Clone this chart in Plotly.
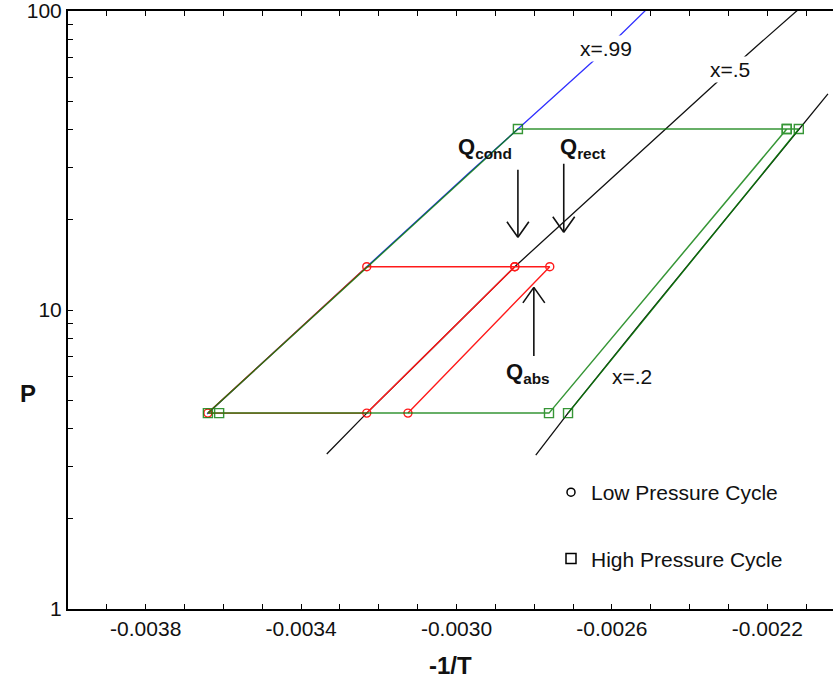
import math
import plotly.graph_objects as go

# ---- data ----
# constant-quality (x) lines: -1/T and pressure
q99_x = [-0.003642, -0.003506, -0.003377, -0.003231, -0.003094, -0.002966, -0.002842, -0.002734, -0.002631, -0.002507]
q99_p = [4.49, 6.55, 9.33, 13.96, 20.3, 28.9, 40.3, 54.0, 71.3, 102.4]

q50_x = [-0.003334, -0.003231, -0.003043, -0.002850, -0.002631, -0.002425, -0.002317, -0.002253, -0.002116]
q50_p = [3.30, 4.52, 7.88, 13.96, 25.4, 44.6, 59.7, 71.3, 102.3]

q20_x = [-0.002796, -0.002713, -0.002528, -0.002322, -0.002119, -0.002044]
q20_p = [3.27, 4.52, 8.98, 19.1, 40.3, 52.8]

# low pressure cycle (circles)
lp_x = [-0.003125, -0.002760, -0.002850, -0.003231, -0.003640, -0.003231, -0.002850]
lp_p = [4.52, 13.96, 13.96, 13.96, 4.52, 4.52, 13.96]

# high pressure cycle (squares)
hp_x = [-0.002713, -0.002119, -0.002150, -0.002842, -0.003640, -0.003611, -0.002762, -0.002150]
hp_p = [4.52, 40.3, 40.3, 40.3, 4.52, 4.52, 4.52, 40.3]

x_tick_labels = ["-0.0038", "-0.0034", "-0.0030", "-0.0026", "-0.0022"]
y_tick_labels = ["1", "10", "100"]
legend_names = ["Low Pressure Cycle", "High Pressure Cycle"]

FONT = "Liberation Sans, Arial, sans-serif"
INK = "#111111"

fig = go.Figure()

# quality lines
fig.add_trace(go.Scatter(x=q99_x, y=q99_p, mode="lines", line=dict(color="#3030ff", width=1.3), showlegend=False, hoverinfo="skip"))
fig.add_trace(go.Scatter(x=q50_x, y=q50_p, mode="lines", line=dict(color=INK, width=1.3), showlegend=False, hoverinfo="skip"))
fig.add_trace(go.Scatter(x=q20_x, y=q20_p, mode="lines", line=dict(color=INK, width=1.3), showlegend=False, hoverinfo="skip"))

# cycles
fig.add_trace(go.Scatter(x=lp_x, y=lp_p, mode="lines+markers",
                         line=dict(color="#ff1a1a", width=1.4),
                         marker=dict(symbol="circle-open", size=8, color="#ff1a1a", line=dict(width=1.4)),
                         showlegend=False, hoverinfo="skip"))
fig.add_trace(go.Scatter(x=hp_x, y=hp_p, mode="lines+markers",
                         line=dict(color="#0a7f0a", width=1.5), opacity=0.82,
                         marker=dict(symbol="square-open", size=9, color="#0a7f0a", line=dict(width=1.4)),
                         showlegend=False, hoverinfo="skip"))

# legend entries (black open symbols)
fig.add_trace(go.Scatter(x=[None], y=[None], mode="markers", name=legend_names[0], legendgroup="a",
                         marker=dict(symbol="circle-open", size=8, color="black", line=dict(width=1.5))))
fig.add_trace(go.Scatter(x=[None], y=[None], mode="markers", name=legend_names[1], legendgroup="b",
                         marker=dict(symbol="square-open", size=10, color="black", line=dict(width=1.5))))

# ticks
x_tickvals = [round(-0.0040 + i * 0.0001, 4) for i in range(20)]
x_ticktext = [(f"{v:.4f}" if f"{v:.4f}" in x_tick_labels else "") for v in x_tickvals]
y_tickvals = [m * 10 ** d for d in range(0, 2) for m in range(1, 10)] + [100]
y_ticktext = [(str(int(v)) if str(int(v)) in y_tick_labels else "") for v in y_tickvals]

fig.update_xaxes(range=[-0.0040, -0.002031], tickmode="array", tickvals=x_tickvals, ticktext=x_ticktext,
                 ticks="inside", ticklen=5, tickwidth=1, tickcolor="black",
                 showline=True, linewidth=2, linecolor="black", mirror="ticks",
                 showgrid=False, zeroline=False, ticklabeloverflow="allow",
                 tickfont=dict(family=FONT, size=21, color=INK))
fig.update_yaxes(type="log", range=[0, 2], tickmode="array", tickvals=y_tickvals, ticktext=y_ticktext,
                 ticks="inside", ticklen=5, tickwidth=1, tickcolor="black",
                 showline=True, linewidth=2, linecolor="black", mirror=False,
                 showgrid=False, zeroline=False, ticklabeloverflow="allow",
                 tickfont=dict(family=FONT, size=21, color=INK))

ann = []
# curve labels (white background hides the line)
ann.append(dict(x=-0.002616, y=1.873, text="x=.99", showarrow=False, bgcolor="white",
                font=dict(family=FONT, size=21, color=INK)))
ann.append(dict(x=-0.002296, y=1.803, text="x=.5", showarrow=False, bgcolor="white",
                font=dict(family=FONT, size=21, color=INK)))
ann.append(dict(x=-0.002549, y=0.776, text="x=.2", showarrow=False,
                font=dict(family=FONT, size=21, color=INK)))
# heat labels
ann.append(dict(x=-0.002927, y=1.542, text="<b>Q<sub>cond</sub></b>", showarrow=False,
                font=dict(family=FONT, size=22, color=INK)))
ann.append(dict(x=-0.002675, y=1.542, text="<b>Q<sub>rect</sub></b>", showarrow=False,
                font=dict(family=FONT, size=22, color=INK)))
ann.append(dict(x=-0.002816, y=0.789, text="<b>Q<sub>abs</sub></b>", showarrow=False,
                font=dict(family=FONT, size=22, color=INK)))

# arrows: shaft plus two open-V arms, each drawn from the arrow tip
def add_arrow(x, p_tip, length, up=False):
    s = 1 if up else -1  # pixel offset sign of the tail relative to the tip
    seg = dict(x=x, y=math.log10(p_tip), text="", showarrow=True, arrowhead=0,
               arrowwidth=1.6, arrowcolor=INK)
    ann.append(dict(seg, ax=0, ay=s * length))
    ann.append(dict(seg, ax=-12, ay=s * 17))
    ann.append(dict(seg, ax=12, ay=s * 17))

add_arrow(-0.002842, 17.5, 69)
add_arrow(-0.002724, 18.2, 70)
add_arrow(-0.002801, 11.9, 70, up=True)

# axis titles
ann.append(dict(xref="paper", yref="paper", x=(18 - 68) / 765, y=(609 - 393) / 598, text="<b>P</b>",
                showarrow=False, font=dict(family=FONT, size=24, color=INK)))
ann.append(dict(xref="paper", yref="paper", x=(450 - 68) / 765, y=(609 - 681) / 598, text="<b>-1/T</b>",
                showarrow=False, font=dict(family=FONT, size=24, color=INK)))

fig.update_layout(
    width=833, height=696,
    margin=dict(l=68, r=0, t=11, b=87),
    paper_bgcolor="white", plot_bgcolor="white",
    annotations=ann,
    showlegend=True,
    legend=dict(x=(551 - 68) / 765, y=(609 - 472) / 598, xanchor="left", yanchor="top",
                bgcolor="rgba(0,0,0,0)", tracegroupgap=36,
                font=dict(family=FONT, size=21, color=INK)),
)

fig.write_html("out.html")
